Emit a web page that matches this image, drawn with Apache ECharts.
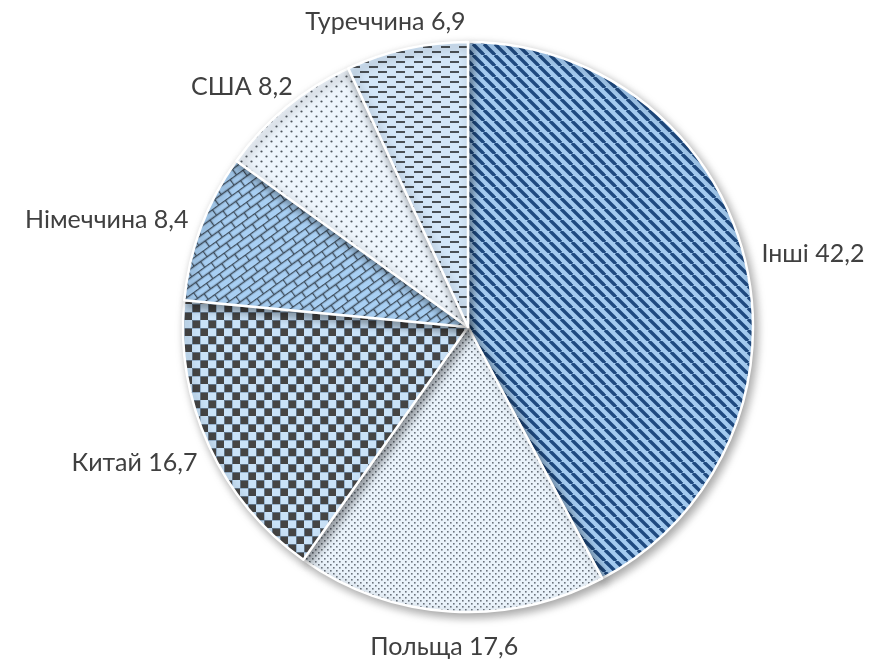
<!DOCTYPE html>
<html><head><meta charset="utf-8">
<script src="https://cdn.jsdelivr.net/npm/echarts@6/dist/echarts.min.js"></script>
<style>html,body{margin:0;padding:0;background:#fff}#c{width:874px;height:664px}</style>
</head><body><div id="c"></div>
<script>
const categories = ['Інші', 'Польща', 'Китай', 'Німеччина', 'США', 'Туреччина'];
const values = [42.2, 17.6, 16.7, 8.4, 8.2, 6.9];

const CX = 468, CY = 327, R = 285, LABEL_R = 304, LABEL_DY = 4;

function tile(w, h, draw) {
  const c = document.createElement('canvas');
  c.width = w; c.height = h;
  const g = c.getContext('2d');
  draw(g, w, h);
  return c;
}
const patStripes = tile(11, 11, (g, w, h) => {
  g.fillStyle = '#A4CBF0'; g.fillRect(0, 0, w, h);
  g.strokeStyle = '#1F4A80'; g.lineWidth = 3.4;
  for (const o of [-w, 0, w]) { g.beginPath(); g.moveTo(o, 0); g.lineTo(o + w, h); g.stroke(); }
});
const patFineDots = tile(6, 6, (g, w, h) => {
  g.fillStyle = '#EAF3FB'; g.fillRect(0, 0, w, h);
  g.fillStyle = '#6A737C';
  g.fillRect(0, 0, 1.6, 1.6); g.fillRect(3, 3, 1.6, 1.6);
});
const patChecker = tile(16, 16, (g, w, h) => {
  g.fillStyle = '#C9E2F8'; g.fillRect(0, 0, w, h);
  g.fillStyle = '#454545';
  g.fillRect(0, 0, 8, 8); g.fillRect(8, 8, 8, 8);
  g.strokeStyle = 'rgba(120,150,180,0.6)'; g.lineWidth = 1;
  g.strokeRect(0.5, 0.5, 8, 8); g.strokeRect(8.5, 8.5, 8, 8);
});
const patBrick = tile(16, 14, (g, w, h) => {
  g.fillStyle = '#A8CFF3'; g.fillRect(0, 0, w, h);
  g.strokeStyle = '#3E4D5C'; g.lineWidth = 1.4;
  g.beginPath();
  g.moveTo(0, 0.5); g.lineTo(w, 0.5);
  g.moveTo(0, 7.5); g.lineTo(w, 7.5);
  g.moveTo(0.5, 0); g.lineTo(0.5, 7);
  g.moveTo(8.5, 7); g.lineTo(8.5, 14);
  g.stroke();
});
const patSparseDots = tile(10, 10, (g, w, h) => {
  g.fillStyle = '#EEF5FC'; g.fillRect(0, 0, w, h);
  g.fillStyle = '#4F575F';
  g.beginPath(); g.arc(1.5, 1.5, 1.1, 0, Math.PI * 2); g.fill();
  g.beginPath(); g.arc(6.5, 6.5, 1.1, 0, Math.PI * 2); g.fill();
});
const patDashes = tile(18, 10, (g, w, h) => {
  g.fillStyle = '#D3E6F8'; g.fillRect(0, 0, w, h);
  g.fillStyle = '#4A5056';
  g.fillRect(0, 1, 9, 2); g.fillRect(9, 6, 9, 2);
});

const patterns = [
  { image: patStripes, repeat: 'repeat' },
  { image: patFineDots, repeat: 'repeat' },
  { image: patChecker, repeat: 'repeat' },
  { image: patBrick, repeat: 'repeat', rotation: -Math.PI / 5 },
  { image: patSparseDots, repeat: 'repeat' },
  { image: patDashes, repeat: 'repeat' }
];

const data = categories.map((n, i) => ({
  name: n, value: values[i],
  itemStyle: { color: patterns[i] }
}));

const total = values.reduce((a, b) => a + b, 0);
const midDir = [];
let acc = 0;
values.forEach(v => {
  const a = (acc + v / 2) / total * Math.PI * 2;
  midDir.push([Math.sin(a), -Math.cos(a)]);
  acc += v;
});

const chart = echarts.init(document.getElementById('c'));
chart.setOption({
  animation: false,
  series: [{
    type: 'pie',
    center: [CX, CY],
    radius: R,
    startAngle: 90,
    clockwise: true,
    data: data,
    itemStyle: {
      borderColor: '#ffffff', borderWidth: 2.5,
      shadowBlur: 10, shadowOffsetX: 3, shadowOffsetY: 4, shadowColor: 'rgba(0,0,0,0.35)'
    },
    label: {
      show: true, position: 'outside', overflow: 'none', edgeDistance: 0,
      formatter: p => p.name + ' ' + String(p.value).replace('.', ','),
      fontFamily: 'Lato', fontSize: 25, color: '#404040'
    },
    labelLine: { show: false, length: 10, length2: 4 },
    labelLayout: function (p) {
      const d = midDir[p.dataIndex];
      const w = p.labelRect.width, h = p.labelRect.height;
      return {
        x: CX + d[0] * LABEL_R + d[0] * w / 2,
        y: CY + d[1] * LABEL_R + d[1] * h / 2 + LABEL_DY,
        align: 'center', verticalAlign: 'middle'
      };
    }
  }]
});
</script></body></html>
